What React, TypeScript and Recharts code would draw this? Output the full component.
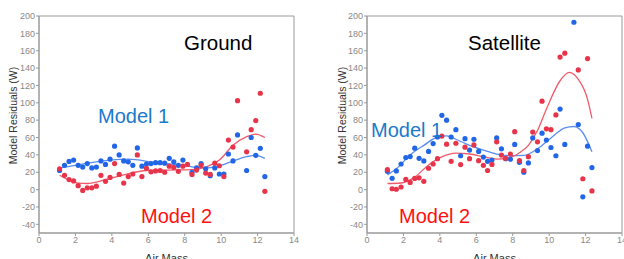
import { ComposedChart, Scatter, Line, XAxis, YAxis, ReferenceArea } from 'recharts';

const xTicks = [0, 2, 4, 6, 8, 10, 12, 14];
const yTicks = [-40, -20, 0, 20, 40, 60, 80, 100, 120, 140, 160, 180, 200];

// Ground panel
const groundBlueX = [1.13, 1.4, 1.65, 1.9, 2.15, 2.4, 2.65, 2.9, 3.15, 3.4, 3.65, 3.9, 4.15, 4.4, 4.65, 4.9, 5.15, 5.4, 5.65, 5.9, 6.15, 6.4, 6.65, 6.9, 7.15, 7.4, 7.65, 7.9, 8.4, 8.65, 8.9, 9.15, 9.4, 9.65, 9.9, 10.15, 10.4, 10.65, 10.9, 11.4, 11.65, 11.9, 12.15, 12.4];
const groundBlueY = [22, 28, 32.5, 34, 28, 26, 30, 25, 26, 33, 29, 35, 50, 40, 33, 32, 28, 48, 27, 29.5, 30, 31, 31, 30.5, 36, 32, 28, 34, 20, 25, 30, 24, 16, 25, 18, 18, 41, 33, 63, 22, 60, 39.5, 47.5, 15];
const groundRedX = [1.13, 1.4, 1.65, 1.9, 2.15, 2.4, 2.65, 2.9, 3.15, 3.4, 3.65, 3.9, 4.15, 4.4, 4.65, 4.9, 5.15, 5.4, 5.65, 5.9, 6.15, 6.4, 6.65, 6.9, 7.15, 7.4, 7.65, 7.9, 8.15, 8.4, 8.65, 8.9, 9.15, 9.4, 9.65, 9.9, 10.15, 10.4, 10.65, 10.9, 11.4, 11.65, 11.9, 12.15, 12.4];
const groundRedY = [24, 16.5, 11.5, 10, 4.5, -1, 2, 2, 4, 16.5, 9.5, 14, 30, 17.5, 7.5, 15, 18, 40, 15, 24.5, 20.5, 21.5, 22, 20, 27, 25.5, 21, 27, 29, 17.5, 22.5, 28, 19, 17.5, 30.5, 27.5, 15, 57, 49, 102.5, 43.5, 69, 79.5, 111, -2];
const groundBlueCurveX = [1.13, 2, 3.9, 4.9, 6.4, 7.9, 8.9, 9.65, 10.4, 11.4, 11.9, 12.4];
const groundBlueCurveY = [25, 28, 34, 35, 31, 28, 25, 26, 31, 38, 39.5, 36];
const groundRedCurveX = [1.13, 2.15, 2.65, 3.65, 4.65, 5.9, 7.15, 8.4, 9.15, 9.9, 10.65, 11.4, 11.9, 12.4];
const groundRedCurveY = [16.5, 7.5, 7, 11.5, 17, 22, 22.5, 23, 26, 34, 51, 61, 64, 60];

// Satellite panel
const satBlueX = [1.12, 1.38, 1.61, 1.87, 2.13, 2.37, 2.62, 2.86, 3.12, 3.38, 3.63, 3.87, 4.11, 4.37, 4.62, 4.88, 5.14, 5.38, 5.63, 5.87, 6.13, 6.39, 6.62, 6.86, 7.12, 7.38, 7.61, 7.87, 8.11, 8.37, 8.61, 8.86, 9.1, 9.36, 9.61, 9.85, 10.1, 10.37, 10.6, 10.86, 11.36, 11.6, 11.85, 12.11, 12.35];
const satBlueY = [21, 13, 21.5, 29.5, 37, 38, 47.7, 36, 33, 44, 53, 60.6, 85.6, 80, 60.6, 69, 39, 58.7, 45.5, 58, 44, 37.5, 32.6, 34, 59.5, 47, 35.6, 35, 52, 31.4, 20, 30.7, 59.5, 45, 65, 57, 48.5, 39, 92.8, 52, 192.8, 75, -8.3, 50, 25.4];
const satRedX = [1.12, 1.38, 1.61, 1.87, 2.13, 2.37, 2.62, 2.86, 3.12, 3.38, 3.63, 3.87, 4.11, 4.37, 4.62, 4.88, 5.14, 5.38, 5.63, 5.87, 6.13, 6.39, 6.62, 6.86, 7.12, 7.38, 7.61, 7.87, 8.11, 8.37, 8.61, 8.86, 9.1, 9.36, 9.61, 9.85, 10.1, 10.37, 10.6, 10.86, 11.6, 11.85, 12.11, 12.35];
const satRedY = [23, 1, 0.4, 3, 11.7, 8.3, 12.9, 13.6, 9.5, 24.6, 29.5, 35.6, 61.7, 52.3, 32.6, 53.4, 28.8, 48.9, 35.6, 51.5, 33.3, 28, 22, 29, 55, 39.8, 36, 41, 66.7, 33.3, 22, 37.9, 66.3, 55, 101.9, 70, 69, 86, 152.7, 157.2, 137.9, 12.5, 151, -1.5];
const satBlueCurveX = [1.12, 1.61, 2.37, 3.12, 3.87, 4.37, 4.88, 5.63, 6.39, 7.12, 7.87, 8.61, 9.36, 10.1, 10.86, 11.36, 11.85, 12.35];
const satBlueCurveY = [17, 24, 40, 51, 60.6, 62, 58, 51, 45.5, 41, 39, 39.4, 47, 59.5, 71, 72.7, 65.5, 43.5];
const satRedCurveX = [1.12, 1.87, 2.62, 3.38, 4.13, 4.88, 5.63, 6.39, 7.12, 7.87, 8.37, 8.86, 9.36, 9.85, 10.6, 11.1, 11.6, 12.11, 12.35];
const satRedCurveY = [7, 7.6, 14.4, 28.4, 37.9, 42, 41, 37.9, 35.2, 37.1, 42.4, 51, 68, 92.8, 125.4, 135, 127, 104, 82];

const BLUE_DOT = '#2266e8';
const RED_DOT = '#e8344a';
const BLUE_LINE = '#5a8ef0';
const RED_LINE = '#f05a6a';
const FONT = '"Liberation Sans", Arial, sans-serif';

const zip = (xs: number[], ys: number[]) => xs.map((x, i) => ({ x, y: ys[i] }));

const dot = (color: string) => (p: any) => <circle cx={p.cx} cy={p.cy} r={2.6} fill={color} />;

type PanelProps = {
  width: number;
  yAxisWidth: number;
  rightMargin: number;
  labelDx: number;
  blue: { x: number; y: number }[];
  red: { x: number; y: number }[];
  blueCurve: { x: number; y: number }[];
  redCurve: { x: number; y: number }[];
};

function Panel({ width, yAxisWidth, rightMargin, labelDx, blue, red, blueCurve, redCurve }: PanelProps) {
  const tick = { fontSize: 9, fill: '#888', fontFamily: FONT };
  return (
    <ComposedChart width={width} height={259} margin={{ top: 16, right: rightMargin, bottom: 0, left: 0 }}>
      <XAxis
        type="number"
        dataKey="x"
        domain={[0, 14]}
        ticks={xTicks}
        interval={0}
        height={26}
        tick={tick}
        tickSize={3}
        tickMargin={1}
        stroke="#999"
        label={{ value: 'Air Mass', position: 'insideBottom', offset: -3, fontSize: 11, fill: '#333', fontFamily: FONT }}
      />
      <YAxis
        type="number"
        dataKey="y"
        domain={[-50, 200]}
        ticks={yTicks}
        interval={0}
        width={yAxisWidth}
        tick={tick}
        tickSize={3}
        tickMargin={1}
        stroke="#999"
        label={{ value: 'Model Residuals (W)', angle: -90, position: 'center', dx: labelDx, dy: -9, fontSize: 10.5, fill: '#333', fontFamily: FONT }}
      />
      <ReferenceArea x1={0} x2={14} y1={-50} y2={200} fill="none" stroke="#999" strokeWidth={1} ifOverflow="visible" />
      <Scatter data={blue} shape={dot(BLUE_DOT)} isAnimationActive={false} />
      <Scatter data={red} shape={dot(RED_DOT)} isAnimationActive={false} />
      <Line data={blueCurve} dataKey="y" type="monotone" stroke={BLUE_LINE} strokeWidth={1.3} dot={false} isAnimationActive={false} />
      <Line data={redCurve} dataKey="y" type="monotone" stroke={RED_LINE} strokeWidth={1.3} dot={false} isAnimationActive={false} />
    </ComposedChart>
  );
}

const txt = (left: number, top: number, size: number, color: string): React.CSSProperties => ({
  position: 'absolute',
  left,
  top,
  fontSize: size,
  lineHeight: `${size}px`,
  color,
  fontFamily: FONT,
  whiteSpace: 'nowrap',
});

export default function App() {
  return (
    <div style={{ position: 'absolute', left: 0, top: 0, width: 624, height: 259, overflow: 'hidden', background: '#fff' }}>
      <div style={{ position: 'absolute', left: 0, top: 0 }}>
        <Panel
          width={310}
          yAxisWidth={39}
          rightMargin={16}
          labelDx={-6.5}
          blue={zip(groundBlueX, groundBlueY)}
          red={zip(groundRedX, groundRedY)}
          blueCurve={zip(groundBlueCurveX, groundBlueCurveY)}
          redCurve={zip(groundRedCurveX, groundRedCurveY)}
        />
      </div>
      <div style={{ position: 'absolute', left: 310, top: 0 }}>
        <Panel
          width={314}
          yAxisWidth={57}
          rightMargin={2}
          labelDx={3.5}
          blue={zip(satBlueX, satBlueY)}
          red={zip(satRedX, satRedY)}
          blueCurve={zip(satBlueCurveX, satBlueCurveY)}
          redCurve={zip(satRedCurveX, satRedCurveY)}
        />
      </div>
      <div style={txt(184, 33, 20.5, '#000')}>Ground</div>
      <div style={txt(98, 105.5, 20, '#1a7acb')}>Model 1</div>
      <div style={txt(141, 205.5, 20, '#ff1010')}>Model 2</div>
      <div style={txt(468, 33, 20.5, '#000')}>Satellite</div>
      <div style={txt(371, 119.5, 20, '#1a7acb')}>Model 1</div>
      <div style={txt(399, 205.5, 20, '#ff1010')}>Model 2</div>
    </div>
  );
}
